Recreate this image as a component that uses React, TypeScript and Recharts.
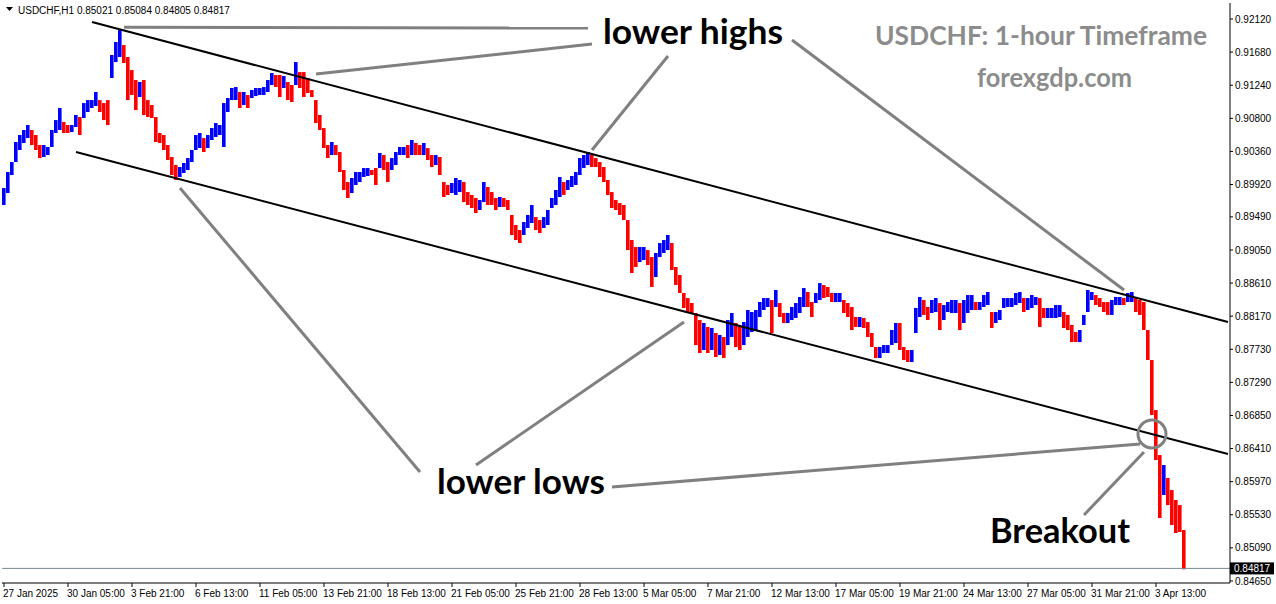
import React from 'react';
import { ComposedChart, Bar, XAxis, YAxis, ReferenceLine, ReferenceDot } from 'recharts';

const highs = [
  0.89873, 0.90086, 0.90219, 0.90485, 0.90578, 0.90645, 0.90711, 0.90645, 0.90578, 0.90445,
  0.90445, 0.90419, 0.90645, 0.90777, 0.90937, 0.90751, 0.90711, 0.90711, 0.90844, 0.90817,
  0.91003, 0.91043, 0.91043, 0.91150, 0.91043, 0.91003, 0.91043, 0.91642, 0.91814, 0.91974,
  0.91774, 0.91615, 0.91442, 0.91309, 0.91283, 0.91309, 0.91043, 0.90977, 0.90817, 0.90605,
  0.90578, 0.90445, 0.90286, 0.90179, 0.90153, 0.90206, 0.90272, 0.90379, 0.90578, 0.90605,
  0.90538, 0.90578, 0.90671, 0.90737, 0.90711, 0.91003, 0.91070, 0.91203, 0.91216, 0.91150,
  0.91150, 0.91110, 0.91176, 0.91203, 0.91203, 0.91216, 0.91309, 0.91402, 0.91376, 0.91376,
  0.91362, 0.91283, 0.91243, 0.91548, 0.91415, 0.91415, 0.91336, 0.91176, 0.91043, 0.90844,
  0.90671, 0.90445, 0.90485, 0.90445, 0.90352, 0.90113, 0.89953, 0.90007, 0.90086, 0.90086,
  0.90139, 0.90139, 0.90113, 0.90139, 0.90339, 0.90312, 0.90219, 0.90272, 0.90352, 0.90419,
  0.90419, 0.90445, 0.90512, 0.90472, 0.90445, 0.90472, 0.90405, 0.90312, 0.90312, 0.90286,
  0.89953, 0.89914, 0.89940, 0.90007, 0.89980, 0.89953, 0.89820, 0.89781, 0.89741, 0.89714,
  0.89953, 0.89887, 0.89820, 0.89741, 0.89754, 0.89741, 0.89714, 0.89515, 0.89382, 0.89315,
  0.89421, 0.89515, 0.89648, 0.89488, 0.89448, 0.89488, 0.89581, 0.89741, 0.89847, 0.90020,
  0.89953, 0.89980, 0.90033, 0.90086, 0.90272, 0.90312, 0.90352, 0.90312, 0.90272, 0.90219,
  0.90153, 0.89980, 0.89820, 0.89714, 0.89674, 0.89648, 0.89448, 0.89182, 0.89089, 0.89089,
  0.89089, 0.89049, 0.88956, 0.89010, 0.89142, 0.89182, 0.89249, 0.89142, 0.88824, 0.88717,
  0.88478, 0.88411, 0.88345, 0.88212, 0.88119, 0.88079, 0.88026, 0.88013, 0.87946, 0.87920,
  0.87893, 0.88119, 0.88212, 0.88079, 0.88026, 0.88092, 0.88252, 0.88225, 0.88252, 0.88358,
  0.88411, 0.88411, 0.88385, 0.88518, 0.88345, 0.88212, 0.88212, 0.88292, 0.88345, 0.88425,
  0.88544, 0.88491, 0.88358, 0.88478, 0.88610, 0.88584, 0.88558, 0.88478, 0.88478, 0.88478,
  0.88385, 0.88345, 0.88292, 0.88159, 0.88159, 0.88146, 0.88092, 0.87946, 0.87760, 0.87760,
  0.87786, 0.87786, 0.87986, 0.88079, 0.88079, 0.87760, 0.87720, 0.87720, 0.88279, 0.88425,
  0.88385, 0.88292, 0.88385, 0.88411, 0.88345, 0.88318, 0.88358, 0.88385, 0.88385, 0.88345,
  0.88385, 0.88451, 0.88451, 0.88358, 0.88358, 0.88451, 0.88491, 0.88225, 0.88225, 0.88252,
  0.88411, 0.88411, 0.88411, 0.88478, 0.88491, 0.88411, 0.88411, 0.88451, 0.88425, 0.88411,
  0.88279, 0.88279, 0.88279, 0.88318, 0.88318, 0.88225, 0.88186, 0.88053, 0.87959, 0.87986,
  0.88186, 0.88518, 0.88491, 0.88451, 0.88411, 0.88358, 0.88358, 0.88385, 0.88425, 0.88425,
  0.88411, 0.88478, 0.88491, 0.88411, 0.88385, 0.88358, 0.87986, 0.87587, 0.86922, 0.86324,
  0.86191, 0.86019, 0.85859, 0.85726, 0.85659, 0.85327,
];

const lows = [
  0.89648, 0.89807, 0.90046, 0.90219, 0.90379, 0.90472, 0.90538, 0.90445, 0.90379, 0.90272,
  0.90286, 0.90312, 0.90419, 0.90605, 0.90645, 0.90605, 0.90605, 0.90618, 0.90684, 0.90578,
  0.90804, 0.90884, 0.90937, 0.90964, 0.90884, 0.90777, 0.90711, 0.91336, 0.91548, 0.91615,
  0.91535, 0.91043, 0.91110, 0.90910, 0.91083, 0.90844, 0.90817, 0.90804, 0.90485, 0.90472,
  0.90379, 0.90246, 0.90046, 0.89980, 0.90020, 0.90073, 0.90113, 0.90219, 0.90379, 0.90405,
  0.90352, 0.90405, 0.90512, 0.90552, 0.90578, 0.90419, 0.90884, 0.91043, 0.91043, 0.90937,
  0.90977, 0.90937, 0.91070, 0.91096, 0.91110, 0.91110, 0.91150, 0.91243, 0.91216, 0.91083,
  0.91203, 0.91043, 0.91017, 0.91243, 0.91203, 0.91083, 0.91136, 0.91083, 0.90737, 0.90645,
  0.90405, 0.90272, 0.90312, 0.90312, 0.90086, 0.89847, 0.89741, 0.89807, 0.89914, 0.89953,
  0.90020, 0.90033, 0.90046, 0.89914, 0.90139, 0.90113, 0.89953, 0.90113, 0.90179, 0.90312,
  0.90312, 0.90272, 0.90312, 0.90312, 0.90312, 0.90312, 0.90246, 0.90153, 0.90179, 0.90046,
  0.89754, 0.89781, 0.89807, 0.89781, 0.89820, 0.89687, 0.89648, 0.89608, 0.89541, 0.89581,
  0.89687, 0.89648, 0.89648, 0.89581, 0.89621, 0.89621, 0.89581, 0.89249, 0.89182, 0.89142,
  0.89249, 0.89342, 0.89408, 0.89315, 0.89275, 0.89342, 0.89382, 0.89608, 0.89648, 0.89754,
  0.89781, 0.89847, 0.89887, 0.89914, 0.90046, 0.90139, 0.90179, 0.90153, 0.90153, 0.90020,
  0.89953, 0.89781, 0.89608, 0.89581, 0.89515, 0.89448, 0.89049, 0.88744, 0.88824, 0.88890,
  0.88916, 0.88850, 0.88558, 0.88691, 0.88956, 0.89010, 0.89049, 0.88784, 0.88585, 0.88478,
  0.88279, 0.88225, 0.88212, 0.87786, 0.87680, 0.87720, 0.87680, 0.87720, 0.87627, 0.87654,
  0.87614, 0.87786, 0.87893, 0.87760, 0.87720, 0.87786, 0.87893, 0.87959, 0.87986, 0.88159,
  0.88252, 0.88292, 0.87946, 0.88292, 0.88159, 0.88079, 0.88079, 0.88119, 0.88146, 0.88212,
  0.88292, 0.88292, 0.88159, 0.88345, 0.88385, 0.88411, 0.88425, 0.88358, 0.88358, 0.88358,
  0.88212, 0.88159, 0.87986, 0.88026, 0.88026, 0.88013, 0.87893, 0.87760, 0.87614, 0.87614,
  0.87680, 0.87680, 0.87786, 0.87813, 0.87720, 0.87587, 0.87561, 0.87561, 0.87946, 0.88159,
  0.88186, 0.88119, 0.88212, 0.88225, 0.87986, 0.88119, 0.88225, 0.88212, 0.88212, 0.87986,
  0.88079, 0.88212, 0.88252, 0.88252, 0.88252, 0.88292, 0.88318, 0.88013, 0.88079, 0.88119,
  0.88279, 0.88292, 0.88292, 0.88318, 0.88345, 0.88225, 0.88252, 0.88279, 0.88318, 0.88026,
  0.88146, 0.88146, 0.88146, 0.88146, 0.88159, 0.88013, 0.87986, 0.87826, 0.87826, 0.87826,
  0.88053, 0.88225, 0.88385, 0.88318, 0.88292, 0.88225, 0.88186, 0.88186, 0.88318, 0.88318,
  0.88318, 0.88358, 0.88358, 0.88225, 0.88186, 0.87986, 0.87587, 0.86856, 0.86258, 0.85487,
  0.85793, 0.85659, 0.85394, 0.85287, 0.85301, 0.84805,
];

const emptySlots = 11;
const labelEvery = 16;
const timeLabels = [
  '27 Jan 2025', '30 Jan 05:00', '3 Feb 21:00', '6 Feb 13:00', '11 Feb 05:00', '13 Feb 21:00',
  '18 Feb 13:00', '21 Feb 05:00', '25 Feb 21:00', '28 Feb 13:00', '5 Mar 05:00', '7 Mar 21:00',
  '12 Mar 13:00', '17 Mar 05:00', '19 Mar 21:00', '24 Mar 13:00', '27 Mar 05:00', '31 Mar 21:00',
  '3 Apr 13:00',
];
const priceTicks = [
  0.9212, 0.9168, 0.9124, 0.908, 0.9036, 0.8992, 0.8949, 0.8905, 0.8861, 0.8817, 0.8773, 0.8729,
  0.8685, 0.8641, 0.8597, 0.8553, 0.8509, 0.8465,
];
const priceDomain = [0.84623, 0.92333];
const lastBar = { symbol: 'USDCHF,H1', open: 0.85021, high: 0.85084, low: 0.84805, close: 0.84817 };

// channel lines and annotation pointers, as [bar index, price]
const upperChannel = [[22, 0.9208], [306, 0.88092]];
const lowerChannel = [[18, 0.90352], [306, 0.86338]];
const lowerHighsPointers = [
  [[30, 0.92010], [146, 0.92000]],
  [[78, 0.91389], [147, 0.91788]],
  [[147, 0.90379], [166, 0.91628]],
  [[197, 0.91841], [280, 0.88518]],
];
const lowerLowsPointers = [
  [[44, 0.89874], [104, 0.86098]],
  [[118, 0.86192], [170, 0.88092]],
  [[152, 0.85899], [284, 0.86471]],
];
const breakoutPointer = [[270, 0.85527], [285, 0.86364]];
const breakoutPoint = [287, 0.86604];

const data = Array.from({ length: highs.length + emptySlots }, (_, i) => {
  const has = i < highs.length;
  const mid = has ? (highs[i] + lows[i]) / 2 : 0;
  const prevMid = i > 0 && has ? (highs[i - 1] + lows[i - 1]) / 2 : mid;
  return {
    idx: i,
    range: has ? [lows[i], highs[i]] : null,
    up: mid >= prevMid,
  };
});

const xTicks = timeLabels.map((_, k) => k * labelEvery);

const BarShape = (props: any) => {
  const { x, y, width, height, payload } = props;
  if (!payload || !payload.range || !isFinite(y) || !isFinite(height)) return <g />;
  return (
    <rect
      x={x}
      y={y}
      width={width}
      height={Math.max(Math.abs(height), 1)}
      fill={payload.up ? '#0000ff' : '#ff0000'}
    />
  );
};

const TimeTick = (props: any) => {
  const { x, y, payload } = props;
  return (
    <text x={x - 1} y={y + 8} fontSize={10} fontFamily="Liberation Sans, Arial, sans-serif" fill="#000" textAnchor="start">
      {timeLabels[Math.round(payload.value / labelEvery)]}
    </text>
  );
};

const PriceTag = (props: any) => {
  const vb = props.viewBox || {};
  const x = (vb.x || 0) + (vb.width || 0);
  const y = vb.y || 0;
  return (
    <g>
      <rect x={x} y={y - 6} width={44} height={12} fill="#000" />
      <text x={x + 4} y={y + 4} fontSize={10} fontFamily="Liberation Sans, Arial, sans-serif" fill="#fff">
        {lastBar.close.toFixed(5)}
      </text>
    </g>
  );
};

const seg = (s: number[][]) => s.map(([x, y]) => ({ x, y }));

export default function App() {
  const fmt = (v: number) => `${v.toFixed(5)}`;
  return (
    <div style={{ position: 'absolute', left: 0, top: 0, width: 1276, height: 604, background: '#fff' }}>
      <ComposedChart
        width={1276}
        height={604}
        data={data}
        margin={{ top: 3, right: 0, bottom: 0, left: 2 }}
        barCategoryGap={0}
      >
        <XAxis
          dataKey="idx"
          type="category"
          ticks={xTicks}
          interval={0}
          height={21}
          tick={<TimeTick />}
          tickSize={4}
          tickMargin={2}
          axisLine={{ stroke: '#000' }}
          tickLine={{ stroke: '#000' }}
        />
        <XAxis xAxisId="top" dataKey="idx" orientation="top" height={0} tick={false} tickLine={false} axisLine={{ stroke: '#000' }} />
        <YAxis
          orientation="right"
          type="number"
          domain={priceDomain}
          ticks={priceTicks}
          interval={0}
          allowDataOverflow
          width={46}
          tickFormatter={fmt}
          tickSize={3}
          tickMargin={2}
          tick={{ fontSize: 10, fill: '#000', fontFamily: 'Liberation Sans, Arial, sans-serif' }}
          axisLine={{ stroke: '#000' }}
          tickLine={{ stroke: '#000' }}
        />
        <YAxis yAxisId="frame" orientation="left" width={0} tick={false} tickLine={false} axisLine={{ stroke: '#000' }} domain={[0, 1]} />
        <Bar dataKey="range" barSize={4} isAnimationActive={false} shape={<BarShape />} />
        <ReferenceLine y={lastBar.close} stroke="#778899" strokeWidth={1} label={<PriceTag />} />
        <ReferenceLine segment={seg(upperChannel)} stroke="#000" strokeWidth={2} ifOverflow="visible" />
        <ReferenceLine segment={seg(lowerChannel)} stroke="#000" strokeWidth={2} ifOverflow="visible" />
        {lowerHighsPointers.map((s, k) => (
          <ReferenceLine key={'h' + k} segment={seg(s)} stroke="#808080" strokeWidth={3} ifOverflow="visible" />
        ))}
        {lowerLowsPointers.map((s, k) => (
          <ReferenceLine key={'l' + k} segment={seg(s)} stroke="#808080" strokeWidth={3} ifOverflow="visible" />
        ))}
        <ReferenceLine segment={seg(breakoutPointer)} stroke="#808080" strokeWidth={3} ifOverflow="visible" />
        <ReferenceDot x={breakoutPoint[0]} y={breakoutPoint[1]} r={14} fill="none" stroke="#808080" strokeWidth={3} />
      </ComposedChart>
      <svg width={1276} height={604} style={{ position: 'absolute', left: 0, top: 0, pointerEvents: 'none' }}>
        <polygon points="6,7 13,7 9.5,11" fill="#000" />
        <text x={18} y={14} fontSize={10} fontFamily="Liberation Sans, Arial, sans-serif" fill="#000">
          {`${lastBar.symbol}  ${lastBar.open.toFixed(5)} ${lastBar.high.toFixed(5)} ${lastBar.low.toFixed(5)} ${lastBar.close.toFixed(5)}`}
        </text>
        <text x={603} y={44} fontSize={34} fontWeight={700} fontFamily="Lato, sans-serif" fill="#000" textLength={180} lengthAdjust="spacingAndGlyphs">lower highs</text>
        <text x={437} y={494} fontSize={34} fontWeight={700} fontFamily="Lato, sans-serif" fill="#000" textLength={168} lengthAdjust="spacingAndGlyphs">lower lows</text>
        <text x={990} y={543} fontSize={34} fontWeight={700} fontFamily="Lato, sans-serif" fill="#000" textLength={140} lengthAdjust="spacingAndGlyphs">Breakout</text>
        <text x={875} y={45} fontSize={26} fontWeight={700} fontFamily="Lato, sans-serif" fill="#8c8c8c" textLength={332} lengthAdjust="spacingAndGlyphs">USDCHF: 1-hour Timeframe</text>
        <text x={977} y={87} fontSize={26} fontWeight={700} fontFamily="Lato, sans-serif" fill="#8c8c8c" textLength={155} lengthAdjust="spacingAndGlyphs">forexgdp.com</text>
      </svg>
    </div>
  );
}
